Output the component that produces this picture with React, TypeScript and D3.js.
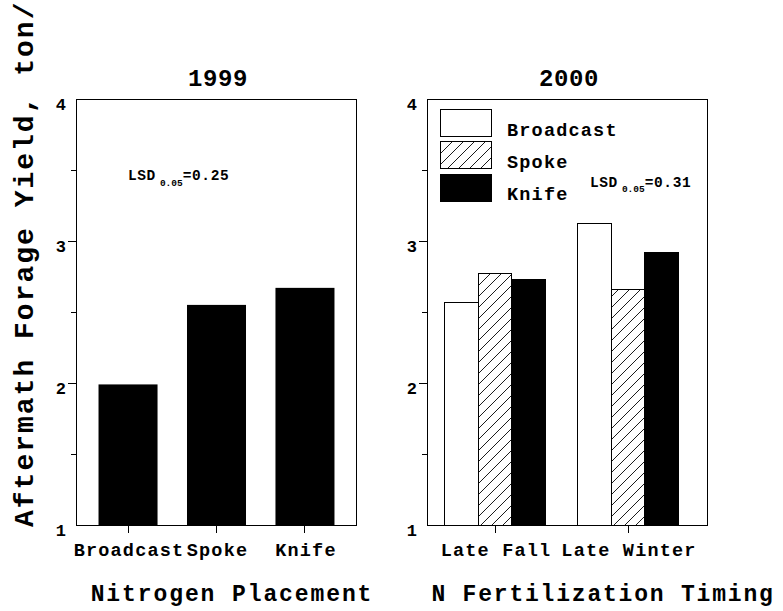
import React from "react";
import * as d3 from "d3";

// ---- data ----
const placementCategories = ["Broadcast", "Spoke", "Knife"];
const yield1999 = [1.99, 2.55, 2.67];

const timingCategories = ["Late Fall", "Late Winter"];
const methods = ["Broadcast", "Spoke", "Knife"];
const broadcast2000 = [2.57, 3.12];
const spoke2000 = [2.77, 2.66];
const knife2000 = [2.73, 2.92];

const yLabelTicks = [1, 2, 3, 4];
const yMajorTicks = [2, 3];
const yMinorTicks = [1.5, 2.5, 3.5];
const panelTitles = ["1999", "2000"];
const lsdValues = ["0.25", "0.31"];
const xTitles = ["Nitrogen Placement", "N Fertilization Timing"];
const yTitle = "Aftermath Forage Yield, ton/";

const FONT = "'Liberation Mono', 'DejaVu Sans Mono', monospace";

const W = 783;
const H = 611;
const TOP = 99;
const BOTTOM = 525;

export default function App() {
  const y = d3.scaleLinear().domain([1, 4]).range([BOTTOM, TOP]);

  const p1 = { x0: 76, x1: 356 };
  const p2 = { x0: 427, x1: 707 };

  const x1 = d3
    .scaleBand<string>()
    .domain(placementCategories)
    .range([83.75, 349.25])
    .paddingInner(0.333)
    .paddingOuter(0.167);

  const x2 = d3
    .scaleBand<string>()
    .domain(timingCategories)
    .range([428.5, 694.5])
    .paddingInner(0.248)
    .paddingOuter(0.124);

  const xm = d3.scaleBand<string>().domain(methods).range([0, x2.bandwidth()]).padding(0);

  const series2000 = [broadcast2000, spoke2000, knife2000];
  const fills = ["#ffffff", "url(#hatch)", "#000000"];

  const textStyle = (size: number, ls: number) => ({
    fontFamily: FONT,
    fontWeight: "bold" as const,
    fontSize: size,
    letterSpacing: ls,
  });

  const yAxis = (px: number, key: string) => (
    <g key={key}>
      {yMajorTicks.map((t) => (
        <line key={"M" + t} x1={px - 8} x2={px} y1={y(t)} y2={y(t)} stroke="#000" strokeWidth={1} shapeRendering="crispEdges" />
      ))}
      {yMinorTicks.map((t) => (
        <line key={"m" + t} x1={px - 5} x2={px} y1={y(t)} y2={y(t)} stroke="#000" strokeWidth={1} shapeRendering="crispEdges" />
      ))}
      {yLabelTicks.map((t) => (
        <text key={"l" + t} x={px - 10} y={y(t) + 10.5} textAnchor="end" style={textStyle(17, 0)}>
          {t}
        </text>
      ))}
    </g>
  );

  const frame = (p: { x0: number; x1: number }) => (
    <rect
      x={p.x0}
      y={TOP}
      width={p.x1 - p.x0}
      height={BOTTOM - TOP}
      fill="none"
      stroke="#000"
      strokeWidth={1}
      shapeRendering="crispEdges"
    />
  );

  const lsd = (x: number, yb: number, val: string, subDy: number) => (
    <text x={x} y={yb} style={textStyle(14.5, 0.6)}>
      LSD
      <tspan dx={4} dy={subDy} style={{ fontSize: 9.5, letterSpacing: 0 }}>
        0.05
      </tspan>
      <tspan dy={-subDy}>={val}</tspan>
    </text>
  );

  const legendRows = methods.map((m, i) => ({ m, i }));

  return (
    <svg width={W} height={H} style={{ position: "absolute", left: 0, top: 0, background: "#fff" }}>
      <defs>
        <pattern id="hatch" patternUnits="userSpaceOnUse" width={11} height={11}>
          <rect width={11} height={11} fill="#fff" />
          <path d="M0,11 L11,0 M-2.75,2.75 L2.75,-2.75 M8.25,13.75 L13.75,8.25" stroke="#000" strokeWidth={0.9} />
        </pattern>
      </defs>
      <rect width={W} height={H} fill="#fff" />

      {/* Y title */}
      <text transform={`translate(33,527) rotate(-90)`} style={textStyle(28, 2.0)}>
        {yTitle}
      </text>

      {/* Panel 1 */}
      {placementCategories.map((c, i) => (
        <rect
          key={c}
          x={x1(c)}
          y={y(yield1999[i])}
          width={x1.bandwidth()}
          height={y(1) - y(yield1999[i])}
          fill="#000"
        />
      ))}
      {frame(p1)}
      {yAxis(p1.x0, "ya1")}
      {placementCategories.map((c) => (
        <g key={"t" + c}>
          <line
            x1={x1(c)! + x1.bandwidth() / 2}
            x2={x1(c)! + x1.bandwidth() / 2}
            y1={BOTTOM}
            y2={BOTTOM + 8}
            stroke="#000"
            shapeRendering="crispEdges"
          />
          <text x={x1(c)! + x1.bandwidth() / 2 + 1} y={556} textAnchor="middle" style={textStyle(18.5, 1.2)}>
            {c}
          </text>
        </g>
      ))}
      <text x={(p1.x0 + p1.x1) / 2 + 2} y={86} textAnchor="middle" style={textStyle(24, 0.6)}>
        {panelTitles[0]}
      </text>
      {lsd(128, 180, lsdValues[0], 6)}
      <text x={232} y={601} textAnchor="middle" style={textStyle(23, 1.9)}>
        {xTitles[0]}
      </text>

      {/* Panel 2 */}
      {timingCategories.map((c, gi) => (
        <g key={c} transform={`translate(${x2(c)},0)`}>
          {methods.map((m, si) => {
            const v = series2000[si][gi];
            return (
              <rect
                key={m}
                x={xm(m)}
                y={y(v)}
                width={xm.bandwidth()}
                height={y(1) - y(v)}
                fill={fills[si]}
                stroke="#000"
                strokeWidth={1}
                shapeRendering="crispEdges"
              />
            );
          })}
        </g>
      ))}
      {frame(p2)}
      {yAxis(p2.x0, "ya2")}
      {timingCategories.map((c) => (
        <g key={"t" + c}>
          <line
            x1={x2(c)! + x2.bandwidth() / 2}
            x2={x2(c)! + x2.bandwidth() / 2}
            y1={BOTTOM}
            y2={BOTTOM + 8}
            stroke="#000"
            shapeRendering="crispEdges"
          />
          <text x={x2(c)! + x2.bandwidth() / 2 + 1} y={556} textAnchor="middle" style={textStyle(18.5, 1.2)}>
            {c}
          </text>
        </g>
      ))}
      <text x={(p2.x0 + p2.x1) / 2 + 2} y={86} textAnchor="middle" style={textStyle(24, 0.6)}>
        {panelTitles[1]}
      </text>

      {/* Legend */}
      {legendRows.map(({ m, i }) => (
        <g key={"lg" + m}>
          <rect
            x={440}
            y={109 + i * 32.5}
            width={51}
            height={27}
            fill={fills[i]}
            stroke="#000"
            strokeWidth={1}
            shapeRendering="crispEdges"
          />
          <text x={507} y={136 + i * 32} style={textStyle(18.5, 1.2)}>
            {m}
          </text>
        </g>
      ))}
      {lsd(590, 187, lsdValues[1], 5)}
      <text x={603} y={601} textAnchor="middle" style={textStyle(23, 1.8)}>
        {xTitles[1]}
      </text>
    </svg>
  );
}
